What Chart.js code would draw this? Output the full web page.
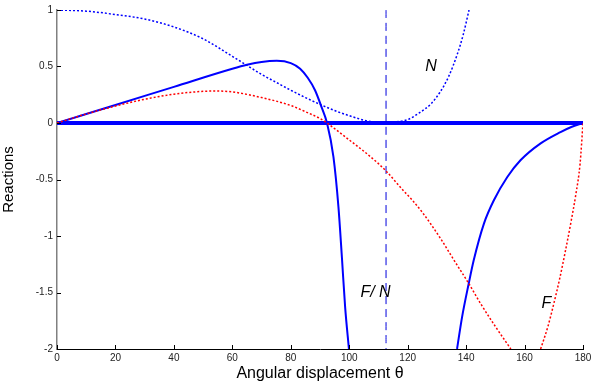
<!DOCTYPE html>
<html>
<head>
<meta charset="utf-8">
<title>Reactions</title>
<script src="https://cdn.jsdelivr.net/npm/chart.js@4.4.1/dist/chart.umd.min.js"></script>
<style>
  html, body { margin: 0; padding: 0; background: #fff; }
  #reactions-chart { display: block; }
</style>
</head>
<body>
<canvas id="reactions-chart" width="601" height="383"></canvas>
<script>
// angular displacement (deg) and reaction values
const nAngle = [0, 10, 20, 30, 40, 50, 60, 65, 70, 75, 80, 85, 90, 95, 100, 105, 108, 112, 116, 120, 124, 128, 131, 134, 137, 139, 141];
const nValue = [1.0, 0.99, 0.96, 0.92, 0.85, 0.745, 0.59, 0.51, 0.43, 0.36, 0.29, 0.225, 0.165, 0.11, 0.065, 0.025, 0.01, 0.0, 0.01, 0.03, 0.09, 0.17, 0.27, 0.41, 0.61, 0.78, 1.0];

const fAngle = [0, 10, 20, 30, 40, 50, 55, 60, 70, 80, 85, 90, 92.4, 95, 100, 105, 110, 112.6, 118.6, 121.5, 125, 131.2, 136, 140.9, 145, 150, 155.3];
const fValue = [0, 0.08, 0.15, 0.21, 0.255, 0.28, 0.283, 0.275, 0.225, 0.155, 0.1, 0.04, 0, -0.05, -0.15, -0.25, -0.36, -0.425, -0.6, -0.68, -0.79, -1.02, -1.22, -1.42, -1.6, -1.8, -2.0];
const fAngle2 = [165.5, 168, 170, 172, 174, 176, 177.5, 179, 180];
const fValue2 = [-2.0, -1.8, -1.6, -1.38, -1.13, -0.86, -0.64, -0.36, 0];

const fnAngle = [0, 20, 40, 60, 65, 70, 75.2, 80, 83.2, 85.8, 88.3, 90.4, 92.4, 94.6, 96.3, 97.5, 98.6, 99.9];
const fnValue = [0, 0.16, 0.32, 0.48, 0.515, 0.54, 0.55, 0.53, 0.48, 0.4, 0.29, 0.15, 0, -0.3, -0.74, -1.19, -1.63, -2.0];
const fnAngle2 = [136.9, 138.6, 140.9, 142.6, 146.1, 149.5, 154.1, 158.6, 165.5, 172.3, 176, 180];
const fnValue2 = [-2.0, -1.72, -1.42, -1.215, -0.89, -0.684, -0.478, -0.33, -0.18, -0.08, -0.035, 0];

const markAngle = 112.6;
const xTicks = [0, 20, 40, 60, 80, 100, 120, 140, 160, 180];
const yTicks = [1, 0.5, 0, -0.5, -1, -1.5, -2];

const curveLabels = [
  { text: 'N', x: 128, y: 0.5 },
  { text: 'F/ N', x: 109, y: -1.5 },
  { text: 'F', x: 167.5, y: -1.6 }
];

function pts(xs, ys) {
  return xs.map((x, i) => ({ x: x, y: ys[i] }));
}

const blue = 'rgb(0, 0, 255)';
const red = 'rgb(255, 0, 0)';

function line(data, color, width, dash) {
  return {
    data: data,
    borderColor: color,
    borderWidth: width,
    borderDash: dash || [],
    pointRadius: 0,
    fill: false,
    cubicInterpolationMode: 'monotone'
  };
}

// small inward tick marks and italic curve names
const decorations = {
  id: 'decorations',
  afterDraw(chart) {
    const ctx = chart.ctx;
    const xs = chart.scales.x;
    const ys = chart.scales.y;
    ctx.save();
    ctx.strokeStyle = '#000';
    ctx.lineWidth = 1;
    xTicks.forEach(t => {
      const px = Math.round(xs.getPixelForValue(t)) + 0.5;
      ctx.beginPath();
      ctx.moveTo(px, ys.bottom);
      ctx.lineTo(px, ys.bottom - 4);
      ctx.stroke();
    });
    yTicks.forEach(t => {
      const py = Math.round(ys.getPixelForValue(t)) + 0.5;
      ctx.beginPath();
      ctx.moveTo(xs.left, py);
      ctx.lineTo(xs.left + 4, py);
      ctx.stroke();
    });
    ctx.fillStyle = '#000';
    ctx.font = 'italic 16px "Liberation Sans", Arial, sans-serif';
    ctx.textAlign = 'center';
    ctx.textBaseline = 'middle';
    curveLabels.forEach(l => {
      ctx.fillText(l.text, xs.getPixelForValue(l.x), ys.getPixelForValue(l.y));
    });
    ctx.restore();
  }
};

const config = {
  type: 'line',
  data: {
    datasets: [
      line(pts(nAngle, nValue), blue, 1.5, [2, 2]),
      line(pts(fAngle, fValue), red, 1.5, [2, 2]),
      line(pts(fAngle2, fValue2), red, 1.5, [2, 2]),
      line(pts(fnAngle, fnValue), blue, 2),
      line(pts(fnAngle2, fnValue2), blue, 2),
      line([{ x: markAngle, y: 1 }, { x: markAngle, y: -2 }], 'rgb(0, 0, 220)', 1, [8, 5]),
      line([{ x: 0, y: 0 }, { x: 180, y: 0 }], blue, 4)
    ]
  },
  options: {
    responsive: false,
    animation: false,
    layout: { padding: { top: 10, right: 18, left: 0, bottom: 0 } },
    plugins: {
      legend: { display: false },
      title: { display: false },
      tooltip: { enabled: false }
    },
    scales: {
      x: {
        type: 'linear',
        min: 0,
        max: 180,
        afterFit: s => { s.height = 34; },
        afterBuildTicks: s => { s.ticks = xTicks.map(v => ({ value: v })); },
        grid: { display: false, drawTicks: false },
        border: { color: '#000', width: 1 },
        ticks: {
          color: '#222',
          padding: 3,
          maxRotation: 0,
          font: { family: '"Liberation Sans", Arial, sans-serif', size: 10 }
        },
        title: {
          display: true,
          text: 'Angular displacement θ',
          color: '#000',
          padding: { top: 0, bottom: 0 },
          font: { family: '"Liberation Sans", Arial, sans-serif', size: 16 }
        }
      },
      y: {
        min: -2,
        max: 1,
        afterFit: s => { s.width = 57; },
        afterBuildTicks: s => { s.ticks = yTicks.map(v => ({ value: v })); },
        grid: { display: false, drawTicks: false },
        border: { color: '#808080', width: 1.5 },
        ticks: {
          color: '#222',
          padding: 4,
          font: { family: '"Liberation Sans", Arial, sans-serif', size: 10 },
          callback: v => String(v)
        },
        title: {
          display: true,
          text: 'Reactions',
          color: '#000',
          padding: { top: 0, bottom: 0 },
          font: { family: '"Liberation Sans", Arial, sans-serif', size: 15 }
        }
      }
    }
  },
  plugins: [decorations]
};

const ctx = document.getElementById('reactions-chart').getContext('2d');
window.reactionsChart = new Chart(ctx, config);
</script>
</body>
</html>
